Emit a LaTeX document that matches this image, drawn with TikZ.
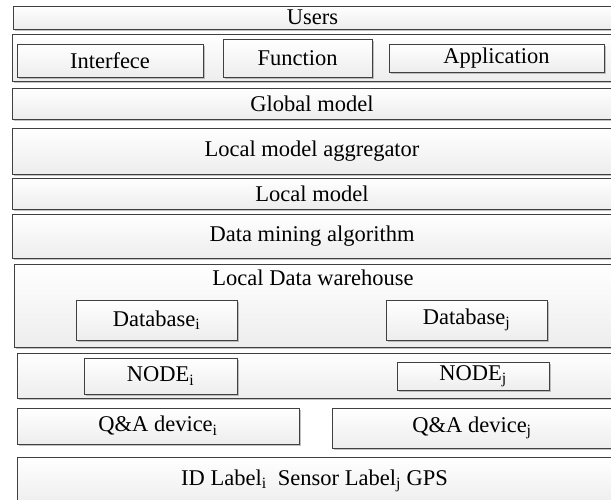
\documentclass[tikz,border=0pt]{standalone}
\usepackage{fontspec}
\setmainfont{Liberation Serif}
\usetikzlibrary{shadows}

\tikzset{
  layer/.style={rectangle,draw=black!75,line width=0.8pt,top color=white,bottom color=gray!14,
    drop shadow={shadow xshift=1.8pt,shadow yshift=-1.8pt,fill=gray!80,opacity=0.6},
    inner sep=0pt,outer sep=0pt},
  box/.style={layer},
  lbl/.style={inner sep=0pt,font=\fontsize{22.5}{24}\selectfont}
}

\begin{document}
\begin{tikzpicture}[x=1pt,y=-1pt,font=\fontsize{22.5}{24}\selectfont]
\useasboundingbox (0,0) rectangle (611,499);
\clip (0,0) rectangle (611,499);

% layers
\node[layer,minimum width=599,minimum height=23] (users) at (312.5,17.5) {Users};
\node[layer,minimum width=600,minimum height=47] (tools) at (312,57.5) {};
\node[box,minimum width=186,minimum height=33] (interf) at (110,60.5) {Interfece};
\node[box,minimum width=149,minimum height=38] (func) at (297.5,58) {Function};
\node[box,minimum width=215,minimum height=28] (appl) at (496.5,58) {Application};
\node[layer,minimum width=600,minimum height=31] (global) at (312,103.5) {Global model};
\node[layer,minimum width=600,minimum height=46] (aggr) at (312,151) {Local model aggregator};
\node[layer,minimum width=600,minimum height=31] (local) at (312,193.5) {Local model};
\node[layer,minimum width=600,minimum height=44] (mining) at (312,236) {Data mining algorithm};

% warehouse
\node[layer,minimum width=598,minimum height=83] (wh) at (313,305.5) {};
\node[lbl] (whtitle) at (313,278) {Local Data warehouse};
\node[box,minimum width=161,minimum height=40] (dbi) at (156.5,320) {Database\textsubscript{i}};
\node[box,minimum width=161,minimum height=40] (dbj) at (466.5,320) {Database\textsubscript{j}};

% nodes
\node[layer,minimum width=595,minimum height=45] (noderow) at (314.5,375.5) {};
\node[box,minimum width=153,minimum height=36] (nodei) at (160.5,376) {NODE\textsubscript{i}};
\node[box,minimum width=152,minimum height=28] (nodej) at (473,376) {NODE\textsubscript{j}};

% devices
\node[layer,minimum width=282,minimum height=36] (qai) at (158,426) {Q\&A device\textsubscript{i}};
\node[layer,minimum width=280,minimum height=40] (qaj) at (472,428) {Q\&A device\textsubscript{j}};
\node[layer,minimum width=595,minimum height=48] (labels) at (314.5,481) {ID Label\textsubscript{i}\ \ Sensor Label\textsubscript{j} GPS};
\end{tikzpicture}
\end{document}
